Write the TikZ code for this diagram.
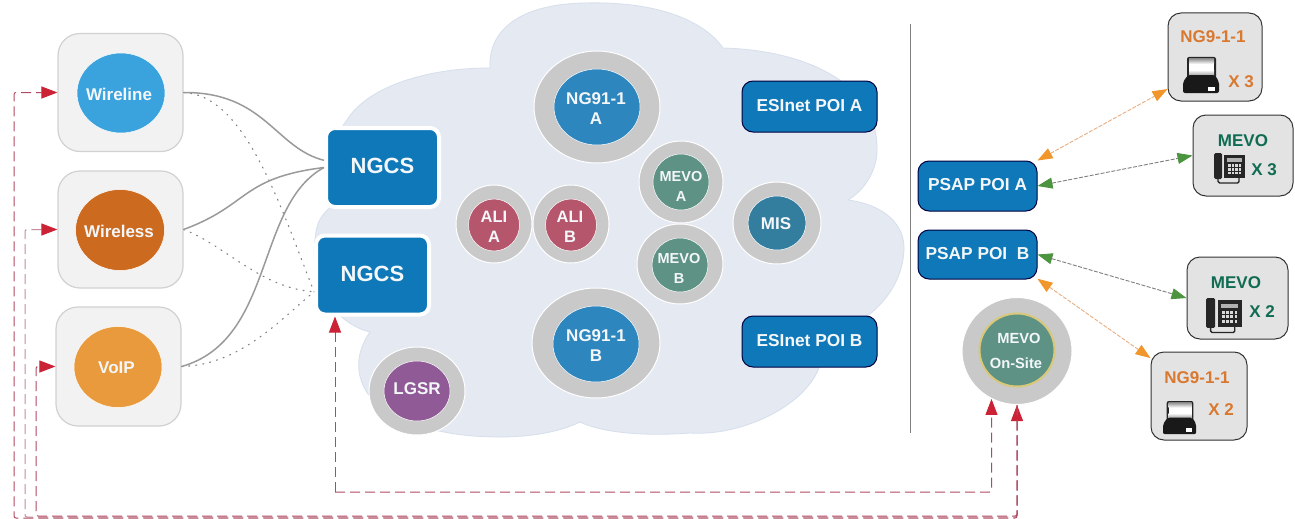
\documentclass[tikz,border=0pt]{standalone}
\usepackage{fontspec}
\setmainfont{Liberation Sans}
\usetikzlibrary{arrows.meta,shapes.geometric}
\definecolor{cloudc}{HTML}{E4E9F2}
\definecolor{cloudl}{HTML}{D6DFEB}
\definecolor{blueb}{HTML}{0E78B8}
\definecolor{ringc}{HTML}{C9C9C9}
\definecolor{lineg}{HTML}{9A9A9A}
\definecolor{dashr}{HTML}{B04A62}
\definecolor{dashp}{HTML}{C68C9C}
\definecolor{headr}{HTML}{CC2236}
\definecolor{orgt}{HTML}{D9782F}
\definecolor{grnt}{HTML}{0F6B52}
\definecolor{tipo}{HTML}{F0962A}
\definecolor{tipg}{HTML}{4C9440}
\definecolor{wht}{HTML}{F4F7F9}
\definecolor{cwire}{HTML}{3AA3DE}
\definecolor{cwless}{HTML}{CC6A20}
\definecolor{cvoip}{HTML}{E89A3C}
\definecolor{cng}{HTML}{2E86BE}
\definecolor{cali}{HTML}{B5566C}
\definecolor{cmevo}{HTML}{5E9285}
\definecolor{cmis}{HTML}{337D9E}
\definecolor{clgsr}{HTML}{8F5A96}
\definecolor{cgold}{HTML}{D8C878}
\tikzset{
 txt/.style={inner sep=0pt,font=\bfseries\fontsize{#1}{20}\selectfont,text=wht,align=center},
 txt/.default=17,
 src/.style={draw=black!18,line width=1.2pt,fill=black!5,rounded corners=22pt,inner sep=0pt},
 disc/.style={ellipse,inner sep=0pt,draw=white,line width=.5pt},
 ring/.style={ellipse,inner sep=0pt,fill=ringc,draw=white,line width=1pt},
 blk/.style={rectangle,rounded corners=11pt,fill=blueb,draw=black!75!blue,line width=1pt,inner sep=0pt,text=wht,font=\bfseries\fontsize{17.3}{20}\selectfont},
 ngcsbox/.style={rectangle,rounded corners=9pt,fill=blueb,draw=white,line width=4pt,inner sep=0pt,text=wht,font=\bfseries\fontsize{22}{24}\selectfont,minimum width=113pt,minimum height=79pt},
 term/.style={rectangle,rounded corners=13pt,fill=black!11,draw=black!80,line width=1pt,inner sep=0pt},
 gcurve/.style={draw=lineg,line width=1.5pt},
 dcurve/.style={draw=black!50,line width=1.1pt,dash pattern=on 1.1pt off 6pt,line cap=round},
 reddash/.style={draw=dashr,line width=1pt,dash pattern=on 10pt off 5pt,rounded corners=2pt},
 redtip/.style={-{Triangle[length=16pt,width=12pt,color=headr]}},
 redtips/.style={{Triangle[length=16pt,width=12pt,color=headr]}-{Triangle[length=16pt,width=12pt,color=headr]}},
 orangeline/.style={{Triangle[length=15pt,width=11pt,color=tipo]}-{Triangle[length=15pt,width=11pt,color=tipo]},draw=orgt!60,line width=.9pt,dash pattern=on 4pt off 1.5pt},
 greenline/.style={{Triangle[length=15pt,width=11pt,color=tipg]}-{Triangle[length=15pt,width=11pt,color=tipg]},draw=black!50,line width=.9pt,dash pattern=on 4pt off 1.5pt},
 ortext/.style={inner sep=0pt,font=\bfseries\fontsize{17}{20}\selectfont,text=orgt},
 grtext/.style={inner sep=0pt,font=\bfseries\fontsize{17}{20}\selectfont,text=grnt},
}
\newcommand{\devicon}[2]{%
 \begin{scope}[shift={(#1)},scale=#2]
  \fill[black!85,rounded corners=2pt] (4,-1) rectangle (33,20);
  \fill[white] (6,1) rectangle (31,18);
  \shade[top color=black!40,bottom color=white] (6,1) rectangle (31,6);
  \shade[top color=white,bottom color=black!40] (6,12) rectangle (31,18);
  \fill[black!90,rounded corners=2pt] (5,17) -- (32,17) -- (36,24) -- (36,35) -- (0,35) -- (0,24) -- cycle;
  \fill[white] (25,28.5) rectangle (32,33);
 \end{scope}}
\newcommand{\phoneicon}[2]{%
 \begin{scope}[shift={(#1)},scale=#2]
  \fill[black!85,rounded corners=1.5pt] (0,0) rectangle (8,26);
  \fill[black!85] (10,2) rectangle (31,25);
  \fill[black!30] (13,5) rectangle (28,9);
  \foreach \i in {0,1,2,3}{\foreach \j in {0,1,2}{\fill[white!85!black] (14+\i*3.6,11+\j*3.9) rectangle ++(2.5,2.6);}}
  \draw[black!85,line width=1.4pt,rounded corners=1.5pt] (4,26) -- (4,30) -- (25,30) -- (25,25);
 \end{scope}}
\begin{document}
\begin{tikzpicture}[x=1pt,y=-1pt]
\useasboundingbox (0,0) rectangle (1295,519);
\fill[white] (0,0) rectangle (1295,519);
% cloud
\path[fill=cloudc,draw=cloudl,line width=.8pt]
 (490,68) .. controls (488,30) and (520,4) .. (585,3)
 .. controls (660,1) and (705,22) .. (723,48)
 .. controls (800,50) and (878,80) .. (877,150)
 .. controls (877,170) and (865,190) .. (848,200)
 .. controls (885,205) and (905,225) .. (904,250)
 .. controls (902,285) and (880,315) .. (835,335)
 -- (822,345)
 .. controls (828,395) and (750,437) .. (690,433)
 .. controls (650,436) and (605,434) .. (580,422)
 .. controls (560,432) and (530,437) .. (500,437)
 .. controls (465,437) and (435,432) .. (412,423)
 .. controls (375,415) and (340,375) .. (370,332)
 .. controls (340,325) and (306,290) .. (316,232)
 .. controls (318,218) and (325,212) .. (333,205)
 .. controls (325,165) and (335,135) .. (347,120)
 .. controls (365,90) and (420,68) .. (490,68) -- cycle;
% divider
\coordinate (divt) at (910,24);
\coordinate (divb) at (910,433);
\draw[black!50,line width=.9pt] (divt) -- (divb);
% sources
\node[src,minimum width=125pt,minimum height=118pt] (wlbox) at (120.5,92.5) {};
\node[src,minimum width=125pt,minimum height=117pt] (wsbox) at (120.5,229.5) {};
\node[src,minimum width=125pt,minimum height=119pt] (vpbox) at (118.5,366.5) {};
\node[disc,fill=cwire,minimum width=88pt,minimum height=80pt] (wl) at (121,93) {};
\node[disc,fill=cwless,minimum width=89pt,minimum height=81pt] (ws) at (120,230) {};
\node[disc,fill=cvoip,minimum width=88pt,minimum height=81pt] (vp) at (118,367) {};
\node[txt] (wlt) at (119,94) {Wireline};
\node[txt] (wst) at (119,231) {Wireless};
\node[txt] (vpt) at (116.5,368) {VoIP};
% NGCS
\node[ngcsbox] (ngcsa) at (382.5,167.5) {\raisebox{2.5pt}{NGCS}};
\node[ngcsbox] (ngcsb) at (372.5,275) {\raisebox{3pt}{NGCS}};
% curves
\draw[dcurve] (wlbox.east) .. controls (245,95) and (280,205) .. (ngcsb.196);
\draw[dcurve] (wsbox.east) .. controls (225,245) and (260,288) .. (ngcsb.196);
\draw[dcurve] (vpbox.east) .. controls (240,365) and (280,320) .. (ngcsb.196);
\draw[gcurve] (wlbox.east) .. controls (265,92) and (275,148) .. (ngcsa.173);
\draw[gcurve] (wsbox.east) .. controls (250,205) and (240,178) .. (ngcsa.west);
\draw[gcurve] (vpbox.east) .. controls (275,340) and (255,205) .. (ngcsa.west);
% servers
\node[ring,minimum width=126pt,minimum height=112pt] (nga) at (597,107) {};
\node[disc,fill=cng,minimum width=86pt,minimum height=76pt] (ngai) at (597,107) {};
\node[txt] (ngat) at (596,109) {NG91-1\\A};
\node[ring,minimum width=128pt,minimum height=110pt] (ngb) at (596,343) {};
\node[disc,fill=cng,minimum width=86pt,minimum height=76pt] (ngbi) at (596,344) {};
\node[txt] (ngbt) at (596,346) {NG91-1\\B};
\node[ring,minimum width=84pt,minimum height=82pt] (mva) at (681,182) {};
\node[disc,fill=cmevo,minimum width=56pt,minimum height=56pt] (mvai) at (681,182) {};
\node[txt=14.5] (mvat) at (681,186) {MEVO\\A};
\node[ring,minimum width=86pt,minimum height=80pt] (mvb) at (680,264) {};
\node[disc,fill=cmevo,minimum width=56pt,minimum height=54pt] (mvbi) at (680,265) {};
\node[txt=14.5] (mvbt) at (679,268) {MEVO\\B};
\node[ring,minimum width=76pt,minimum height=78pt] (alia) at (494,224) {};
\node[disc,fill=cali,minimum width=51pt,minimum height=52pt] (aliai) at (494,225) {};
\node[txt=16.5] (aliat) at (494,227) {ALI\\A};
\node[ring,minimum width=76pt,minimum height=78pt] (alib) at (571,224) {};
\node[disc,fill=cali,minimum width=51pt,minimum height=52pt] (alibi) at (571,225) {};
\node[txt=16.5] (alibt) at (570,227) {ALI\\B};
\node[ring,minimum width=88pt,minimum height=82pt] (mis) at (777,223) {};
\node[disc,fill=cmis,minimum width=58pt,minimum height=54pt] (misi) at (777,223) {};
\node[txt] (mist) at (776,224) {MIS};
\node[ring,minimum width=96pt,minimum height=88pt] (lgsr) at (417,391) {};
\node[disc,fill=clgsr,minimum width=66pt,minimum height=60pt] (lgsri) at (417,391) {};
\node[txt] (lgsrt) at (417,389) {LGSR};
% blocks
\node[blk,minimum width=135pt,minimum height=51pt] (esa) at (809.5,106.5) {\raisebox{2.5pt}{ESInet POI A}};
\node[blk,minimum width=135pt,minimum height=51pt] (esb) at (809.5,341.5) {\raisebox{3pt}{ESInet POI B}};
\node[blk,minimum width=119pt,minimum height=50pt] (pa) at (977.5,186) {\raisebox{3pt}{PSAP POI A}};
\node[blk,minimum width=119pt,minimum height=49pt] (pb) at (977.5,254.5) {\raisebox{2.5pt}{PSAP POI\ \ B}};
% on-site
\node[ring,minimum width=110pt,minimum height=107pt] (site) at (1017,351) {};
\node[disc,fill=cmevo,draw=cgold,line width=2pt,minimum width=75pt,minimum height=73pt] (sitei) at (1017,350) {};
\node[txt=14.7] (sitet1) at (1019,338) {MEVO};
\node[txt=14.7] (sitet2) at (1016,363) {On-Site};
% terminals
\node[term,minimum width=94pt,minimum height=88pt] (t1) at (1215,57) {};
\node[term,minimum width=100pt,minimum height=81pt] (t2) at (1243,155.5) {};
\node[term,minimum width=101pt,minimum height=82pt] (t3) at (1237.5,298) {};
\node[term,minimum width=96pt,minimum height=88pt] (t4) at (1199,396) {};
\node[ortext] (t1a) at (1213,37) {NG9-1-1};
\node[ortext] (t1b) at (1241,82) {X 3};
\node[grtext] (t2a) at (1243,141) {MEVO};
\node[grtext] (t2b) at (1264,170) {X 3};
\node[grtext] (t3a) at (1236,283) {MEVO};
\node[grtext] (t3b) at (1262,312) {X 2};
\node[ortext] (t4a) at (1197,378) {NG9-1-1};
\node[ortext] (t4b) at (1221,410) {X 2};
\devicon{1183,58}{1}
\devicon{1163,402}{.92}
\phoneicon{1214,153}{1}
\phoneicon{1206,298}{1.15}
% terminal arrows
\draw[orangeline] (pa.23) -- (t1.214);
\draw[greenline] (pa.east) -- (t2.west);
\draw[greenline] (pb.east) -- (t3.west);
\draw[orangeline] (pb.-22) -- (t4.142);
% red dashed connectors
\coordinate (b1) at (14,518);
\coordinate (b2) at (25,517);
\coordinate (b3) at (36,516);
\coordinate (b4) at (335,492);
\draw[reddash,draw=dashp,redtip] (site.south) |- (b2) |- (wsbox.west);
\draw[reddash,redtips] (site.south) |- (b1) |- (wlbox.west);
\draw[reddash,redtip] (site.south) |- (b3) |- (vpbox.west);
\draw[reddash,redtip] (b4) -- (b4 |- ngcsb.south);
\draw[reddash,redtip] (b4) -| (site.-118);
\end{tikzpicture}
\end{document}
